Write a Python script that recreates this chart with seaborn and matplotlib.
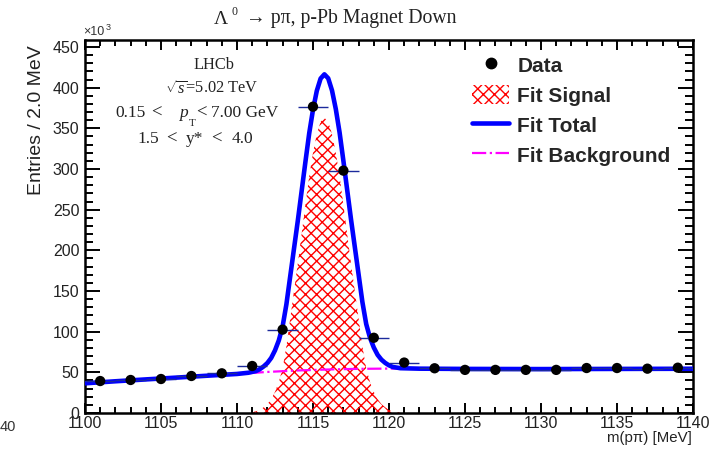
import matplotlib
matplotlib.use("Agg")
import matplotlib.pyplot as plt
import seaborn as sns
import pandas as pd
from matplotlib.lines import Line2D
from matplotlib.patches import Patch
from matplotlib.ticker import MultipleLocator

# ---------------- data (entries in units of 10^3) ----------------
mass_bins = [1101, 1103, 1105, 1107, 1109, 1111, 1113, 1115, 1117, 1119,
             1121, 1123, 1125, 1127, 1129, 1131, 1133, 1135, 1137, 1139]
entries_k = [39.3, 40.6, 41.8, 45.5, 48.8, 57.8, 102.5, 376.6, 298.0, 92.5,
             62.0, 55.0, 53.0, 53.0, 53.0, 53.0, 55.3, 55.3, 54.5, 55.7]
bin_half_width = 1.0

fit_mass = [1100, 1102, 1104, 1106, 1108, 1110,
            1110.75, 1111.25, 1111.5, 1111.75, 1112.0, 1112.25, 1112.5, 1112.75,
            1113.0, 1113.25, 1113.5, 1113.75, 1114.0, 1114.25, 1114.5, 1114.75,
            1115.0, 1115.25, 1115.5, 1115.75, 1116.0, 1116.25, 1116.5, 1116.75,
            1117.0, 1117.25, 1117.5, 1117.75, 1118.0, 1118.25, 1118.5, 1118.75,
            1119.0, 1119.25, 1119.5, 1119.75, 1120.0, 1120.25, 1120.75,
            1122, 1125, 1130, 1135, 1140]
fit_total_k = [36.5, 39.0, 41.3, 43.5, 45.8, 48.0,
               49.5, 51.6, 53.9, 57.2, 61.5, 67.7, 77.0, 89.2,
               106.4, 133.6, 167.9, 202.1, 236.3, 272.5, 308.6, 343.8,
               372.9, 396.1, 411.2, 416.4, 411.5, 396.6, 373.7, 344.8,
               310.0, 274.1, 238.2, 204.2, 170.3, 136.4, 109.4, 92.5,
               80.5, 71.5, 65.6, 61.6, 58.6, 56.6, 55.1,
               54.5, 54.2, 54.0, 54.2, 54.4]

sig_mass = [1110.75, 1111.25, 1111.5, 1111.75, 1112.0, 1112.25, 1112.5, 1112.75,
            1113.0, 1113.25, 1113.5, 1113.75, 1114.0, 1114.25, 1114.5, 1114.75,
            1115.0, 1115.25, 1115.5, 1115.75, 1116.0, 1116.25, 1116.5, 1116.75,
            1117.0, 1117.25, 1117.5, 1117.75, 1118.0, 1118.25, 1118.5, 1118.75,
            1119.0, 1119.25, 1119.5, 1119.75, 1120.0, 1120.25, 1120.75]
sig_k = [0.5, 2, 4, 7, 11, 17, 26, 38,
         55, 82, 116, 150, 184, 220, 256, 291,
         320, 343, 358, 363, 358, 343, 320, 291,
         256, 220, 184, 150, 116, 82, 55, 38,
         26, 17, 11, 7, 4, 2, 0.5]

bg_mass = [1100, 1102, 1104, 1106, 1108, 1110, 1112, 1114, 1116, 1118,
           1120, 1122, 1125, 1130, 1135, 1140]
bg_k = [36.5, 39.0, 41.3, 43.5, 45.8, 48.0, 50.5, 52.3, 53.5, 54.3,
        54.6, 54.5, 54.2, 54.0, 54.2, 54.4]

x_ticks = [1100, 1105, 1110, 1115, 1120, 1125, 1130, 1135, 1140]
y_ticks = [0, 50, 100, 150, 200, 250, 300, 350, 400, 450]

# ---------------- style ----------------
sns.set_theme(style="ticks")
plt.rcParams["font.family"] = ["Liberation Sans", "DejaVu Sans"]
plt.rcParams["mathtext.fontset"] = "custom"
plt.rcParams["mathtext.rm"] = "Liberation Serif"
plt.rcParams["mathtext.it"] = "Liberation Serif:italic"
plt.rcParams["hatch.linewidth"] = 1.0
plt.rcParams["hatch.color"] = "red"

W, H = 718, 453
fig = plt.figure(figsize=(W / 100, H / 100), dpi=100)
ax = fig.add_axes([85 / W, 1 - 413 / H, (693 - 85) / W, (413 - 40) / H])

df_data = pd.DataFrame({"mass": mass_bins, "entries": entries_k})
df_fit = pd.DataFrame({"mass": fit_mass, "total": fit_total_k})
df_bg = pd.DataFrame({"mass": bg_mass, "bg": bg_k})

# signal hatch
ax.fill_between(sig_mass, 0, sig_k, facecolor="none", edgecolor="red",
                hatch="xxx", linewidth=0, zorder=1)
# background
sns.lineplot(data=df_bg, x="mass", y="bg", ax=ax, color="#ff00ff",
             linestyle="-.", linewidth=1.6, sort=False, zorder=2)
# total
sns.lineplot(data=df_fit, x="mass", y="total", ax=ax, color="#0000ff",
             linewidth=3.3, sort=False, zorder=3)
# data
ax.errorbar(mass_bins, entries_k, xerr=bin_half_width, fmt="none",
            ecolor="#1c2a9c", elinewidth=1.0, zorder=4)
sns.scatterplot(data=df_data, x="mass", y="entries", ax=ax, color="black",
                s=55, edgecolor="none", zorder=5)

ax.set_xlim(1100, 1140)
ax.set_ylim(0, 458.6)
ax.set_xticks(x_ticks)
ax.set_yticks(y_ticks)
ax.xaxis.set_minor_locator(MultipleLocator(1))
ax.yaxis.set_minor_locator(MultipleLocator(10))
ax.set_xlabel("")
ax.set_ylabel("")
for s in ax.spines.values():
    s.set_visible(True)
    s.set_linewidth(1.8)
    s.set_color("black")
ax.tick_params(which="both", direction="in", top=True, right=True,
               colors="black", labelcolor="#222222", labelsize=11.5, width=1.4)
ax.tick_params(axis="x", which="major", length=7.5, pad=2)
ax.tick_params(axis="x", which="minor", length=4)
ax.tick_params(axis="y", which="major", length=11, pad=4)
ax.tick_params(axis="y", which="minor", length=5.5)
ax.tick_params(axis="y", which="both", labelright=False)
ax.tick_params(axis="x", which="both", labeltop=False)

# axis titles
fig.text(37 / W, 1 - 45 / H, "Entries / 2.0 MeV", rotation=90, ha="center",
         va="top", fontsize=14, color="#222222")
fig.text(692 / W, 1 - 438 / H, "m(p\u03c0) [MeV]", ha="right", va="center",
         fontsize=10.8, color="#222222")
fig.text(83 / W, 1 - 32 / H, "\u00d710", ha="left", va="center", fontsize=9,
         color="#333333")
fig.text(106 / W, 1 - 27 / H, "3", ha="left", va="center", fontsize=6.5,
         color="#333333")

# title
serif = ["Liberation Serif", "DejaVu Serif"]
tc = "#222222"
fig.text(214 / W, 1 - 19 / H, "\u039b", family=serif, fontsize=14,
         ha="left", va="center", color=tc)
fig.text(232 / W, 1 - 12 / H, "0", family=serif, fontsize=8.5,
         ha="left", va="center", color=tc)
fig.text(246 / W, 1 - 19 / H, "\u2192 p\u03c0, p-Pb Magnet Down", family=serif,
         fontsize=14.2, ha="left", va="center", color=tc)

# LHCb text block
fig.text(214 / W, 1 - 65 / H, "LHCb", family=serif, fontsize=11.8,
         ha="center", va="center", color=tc)
fig.text(212 / W, 1 - 89 / H, r"$\sqrt{s}$=5.02 TeV", family=serif,
         fontsize=11.8, ha="center", va="center", color=tc)
# line 3 pieces
y3 = 1 - 113 / H
fs3 = 12.5
fig.text(115 / W, y3, "0.15", family=serif, fontsize=fs3, ha="left", va="center", color=tc)
fig.text(151 / W, y3, "<", family=serif, fontsize=fs3 + 1, ha="left", va="center", color=tc)
fig.text(179 / W, y3, "p", family=serif, style="italic", fontsize=fs3, ha="left", va="center", color=tc)
fig.text(189 / W, 1 - 123 / H, "T", family=serif, fontsize=8, ha="left", va="center", color=tc)
fig.text(196 / W, y3, "<", family=serif, fontsize=fs3 + 1, ha="left", va="center", color=tc)
fig.text(211 / W, y3, "7.00 GeV", family=serif, fontsize=fs3, ha="left", va="center", color=tc)
# line 4 pieces
y4 = 1 - 139 / H
fig.text(137 / W, y4, "1.5", family=serif, fontsize=fs3, ha="left", va="center", color=tc)
fig.text(166 / W, y4, "<", family=serif, fontsize=fs3 + 1, ha="left", va="center", color=tc)
fig.text(186 / W, y4, "y*", family=serif, fontsize=fs3, ha="left", va="center", color=tc)
fig.text(211 / W, y4, "<", family=serif, fontsize=fs3 + 1, ha="left", va="center", color=tc)
fig.text(232 / W, y4, "4.0", family=serif, fontsize=fs3, ha="left", va="center", color=tc)

# stray label from neighbouring panel
fig.text(0 / W, 1 - 427 / H, "40", fontsize=10.5, ha="left", va="center",
         color="#333333")

handles = [
    Line2D([], [], marker="o", color="black", linestyle="none", markersize=7.5),
    Patch(facecolor="none", edgecolor="red", hatch="xxx", linewidth=0),
    Line2D([], [], color="#0000ff", linewidth=3.3),
    Line2D([], [], color="#ff00ff", linewidth=1.6, linestyle="-."),
]
labels = ["Data", "Fit Signal", "Fit Total", "Fit Background"]
fig.legend(handles, labels, loc="upper left",
           bbox_to_anchor=(472 / W, 1 - 55 / H), bbox_transform=fig.transFigure,
           frameon=False, borderpad=0, borderaxespad=0, handlelength=1.8,
           handleheight=1.06, handletextpad=0.38, labelspacing=0.44,
           prop={"family": "Liberation Sans", "weight": "bold", "size": 15})

fig.savefig("out.png", dpi=100)
